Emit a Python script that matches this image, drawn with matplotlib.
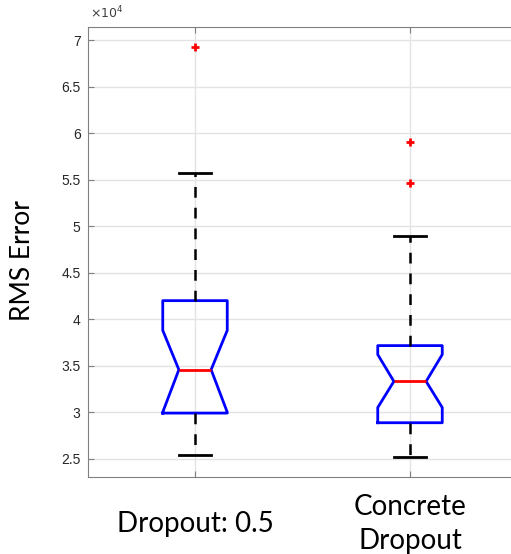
import numpy as np
import matplotlib
matplotlib.use('Agg')
import matplotlib.pyplot as plt
from matplotlib.ticker import FuncFormatter

# Wartości (RMS Error)
kategorie = ['Dropout: 0.5', 'Concrete\nDropout']
mediana = [34570, 33310]
q1 = [29900, 28860]
q3 = [42000, 37160]
wasy_dol = [25400, 25200]
wasy_gora = [55690, 48930]
notch_dol = [30000, 30500]
notch_gora = [38800, 36200]
odstajace = [[69300], [59030, 54610]]

staty = []
for i in range(len(kategorie)):
    staty.append(dict(med=mediana[i], q1=q1[i], q3=q3[i],
                      whislo=wasy_dol[i], whishi=wasy_gora[i],
                      cilo=notch_dol[i], cihi=notch_gora[i],
                      fliers=odstajace[i], label=kategorie[i]))

fig = plt.figure(figsize=(5.11, 5.54), dpi=100)
ax = fig.add_axes([87.5 / 511, 77 / 554, 430 / 511, 450 / 554])

ax.bxp(staty, positions=[1, 2], widths=0.3, shownotches=True,
       boxprops=dict(color='blue', linewidth=2),
       medianprops=dict(color='red', linewidth=2),
       whiskerprops=dict(color='black', linewidth=1.8, linestyle=(0, (4.3, 4.0))),
       capprops=dict(color='black', linewidth=2),
       flierprops=dict(marker='+', markeredgecolor='red', markersize=6,
                       markeredgewidth=2, linestyle='none'))

ax.set_xlim(0.5, 2.5)
ax.set_ylim(23020, 71450)
ax.set_yticks(np.arange(25000, 70001, 5000))
ax.yaxis.set_major_formatter(FuncFormatter(lambda v, p: f'{v / 1e4:g}'))
ax.grid(True, color='#e3e3e3', linewidth=1)
ax.set_axisbelow(True)

for s in ax.spines.values():
    s.set_color('#808080')
ax.tick_params(axis='both', direction='in', colors='#808080', length=4,
               top=True, right=True)
ax.tick_params(axis='y', labelcolor='#262626', labelsize=10, pad=5)
for t in ax.get_yticklabels():
    t.set_fontfamily(['Liberation Sans Narrow', 'Liberation Sans', 'DejaVu Sans'])

ax.set_xticks([1, 2])
ax.set_xticklabels(kategorie, fontfamily='Lato', fontsize=20, color='black',
                   va='center', linespacing=1.4)
ax.tick_params(axis='x', pad=34)

ax.set_ylabel('RMS Error', fontfamily='Lato', fontsize=19)
ax.yaxis.set_label_coords(-0.122, 0.482)
ax.text(0.005, 1.012, r'$\times10^4$', transform=ax.transAxes, fontsize=9,
        color='#404040', ha='left', va='bottom')

fig.savefig('out.png', dpi=100)
